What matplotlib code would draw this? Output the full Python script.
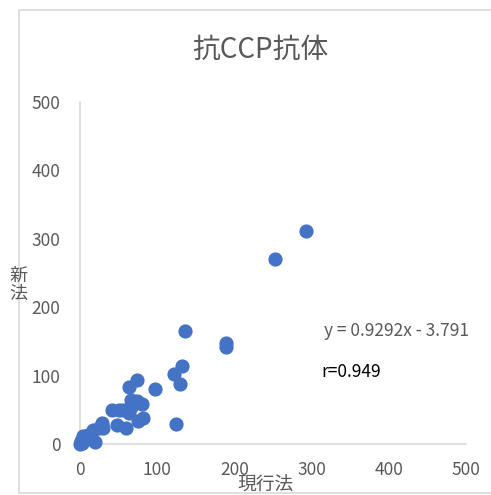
import matplotlib
matplotlib.use("Agg")
import matplotlib.pyplot as plt
from matplotlib.lines import Line2D

plt.rcParams['font.family'] = ['Noto Sans CJK JP', 'DejaVu Sans']

# data
x_cur = [293, 252, 136, 189, 189, 132, 122, 130, 124, 97, 74, 64, 66, 74, 80,
         66, 64, 42, 50, 56, 82, 75, 48, 60, 28, 30, 24, 17, 11, 19, 4, 0, 2,
         6, 1, 3, 8]
y_new = [312, 270, 165, 148, 142, 114, 102, 88, 29, 81, 94, 83, 64, 63, 58,
         54, 45, 50, 50, 50, 38, 34, 28, 24, 31, 24, 23, 20, 13, 3, 11, 0, 2,
         6, 5, 1, 8]
ticks = [0, 100, 200, 300, 400, 500]

title = '抗CCP抗体'
eq_text = 'y = 0.9292x - 3.791'
r_text = 'r=0.949'

grey = '#595959'
line = '#D9D9D9'

fig = plt.figure(figsize=(4.91, 4.95), dpi=100)
# chart area border: top, left, bottom (right side runs off the image)
x0, x1 = 19 / 491, 1.0
y0, y1 = 2 / 495, 485 / 495
fig.add_artist(Line2D([x1, x0, x0, x1], [y1, y1, y0, y0],
                      transform=fig.transFigure, color=line, linewidth=1.2))

ax = fig.add_axes([80 / 491, 51 / 495, 386 / 491, 342 / 495])
ax.scatter(x_cur, y_new, s=85, color='#4472C4', zorder=3, clip_on=False)

ax.set_xlim(0, 500)
ax.set_ylim(0, 500)
ax.set_xticks(ticks)
ax.set_yticks(ticks)
ax.tick_params(length=0, labelsize=12.5, labelcolor=grey)
ax.tick_params(axis='x', pad=12)
ax.tick_params(axis='y', pad=14)
for s in ['top', 'right']:
    ax.spines[s].set_visible(False)
for s in ['left', 'bottom']:
    ax.spines[s].set_color(line)
    ax.spines[s].set_linewidth(1.2)

fig.text(260 / 491, 1 - 50 / 495, title, ha='center', va='center',
         fontsize=20, color=grey)
fig.text(266 / 491, 1 - 485 / 495, '現行法', ha='center', va='center',
         fontsize=13.5, color=grey)
fig.text(18 / 491, 1 - 285 / 495, '新\n法', ha='center', va='center',
         fontsize=13, color=grey, linespacing=1.0)

ax.text(316, 165, eq_text, fontsize=12.5, color=grey, transform=ax.transData,
        va='center')
ax.text(313, 105, r_text, fontsize=12.5, color='black', transform=ax.transData,
        va='center')

fig.savefig('out.png', dpi=100)
